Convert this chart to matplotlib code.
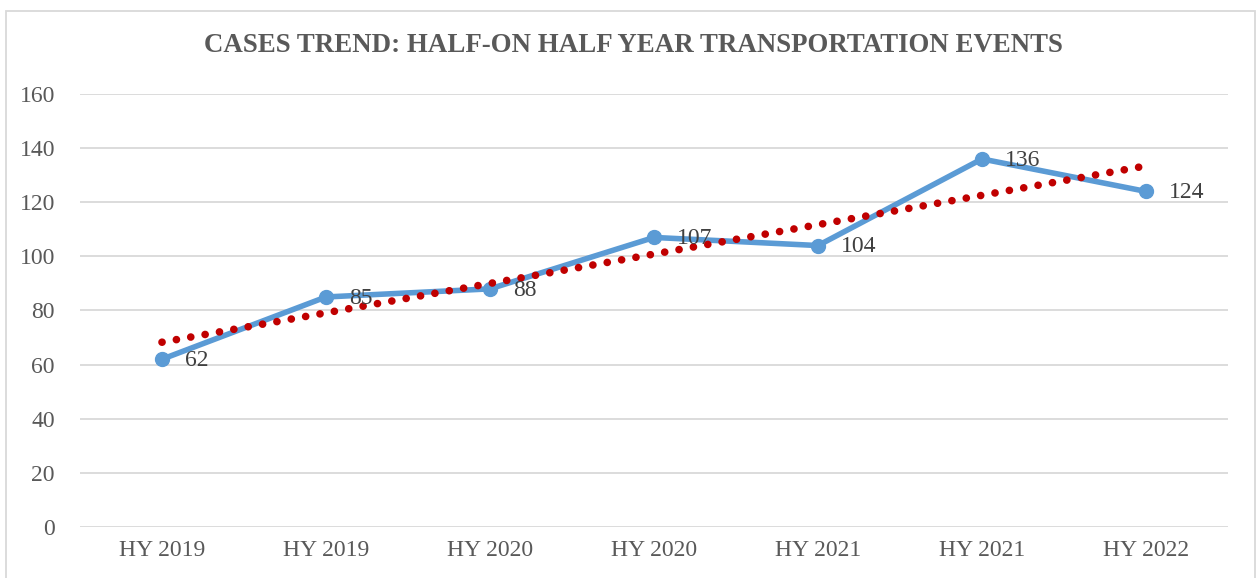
import numpy as np
import matplotlib
matplotlib.use("Agg")
import matplotlib.pyplot as plt
from matplotlib.patches import Rectangle

categories = ["HY 2019", "HY 2019", "HY 2020", "HY 2020", "HY 2021", "HY 2021", "HY 2022"]
cases = [62, 85, 88, 107, 104, 136, 124]
yticks = [0, 20, 40, 60, 80, 100, 120, 140, 160]
title = "CASES TREND: HALF-ON HALF YEAR TRANSPORTATION EVENTS"

plt.rcParams['font.family'] = ['Liberation Serif', 'DejaVu Serif']

fig = plt.figure(figsize=(12.58, 5.78), dpi=100)
fig.patches.append(Rectangle((6/1258, -0.1), (1255-6)/1258, 1 - 11/578 + 0.1,
                             transform=fig.transFigure, fill=False,
                             edgecolor='#d9d9d9', linewidth=1.3))
ax = fig.add_axes([80/1258, 1-527/578, (1228-80)/1258, (527-94)/578])

x = np.arange(len(cases))
# linear trend line (least squares, as Excel's trendline)
coef = np.polyfit(x, cases, 1)
trend = np.polyval(coef, x)
ax.plot(x, trend, color='#c00000', linewidth=5.5,
        linestyle=(0, (0.01, 1.9)), dash_capstyle='round', zorder=3)

ax.plot(x, cases, color='#5b9bd5', linewidth=4.0, marker='o', markersize=10,
        solid_capstyle='round', zorder=2)

for xi, v in zip(x, cases):
    ax.annotate(str(v), (xi, v), xytext=(16.5, -1), textcoords='offset points',
                ha='left', va='center', fontsize=17, color='#404040', zorder=4)

ax.set_xlim(-0.5, len(cases) - 0.5)
ax.set_ylim(0, 160)
ax.set_yticks(yticks)
ax.set_xticks(x)
ax.set_xticklabels(categories)
ax.grid(axis='y', color='#d9d9d9', linewidth=1.3)
ax.set_axisbelow(True)
for s in ax.spines.values():
    s.set_visible(False)
ax.tick_params(axis='both', length=0, labelsize=17, labelcolor='#595959')
ax.tick_params(axis='y', pad=18)
ax.tick_params(axis='x', pad=9)

fig.text(633/1258, 1 - 46/578, title, ha='center', va='center',
         fontsize=19.4, fontweight='bold', color='#595959')

fig.savefig("out.png", dpi=100)
